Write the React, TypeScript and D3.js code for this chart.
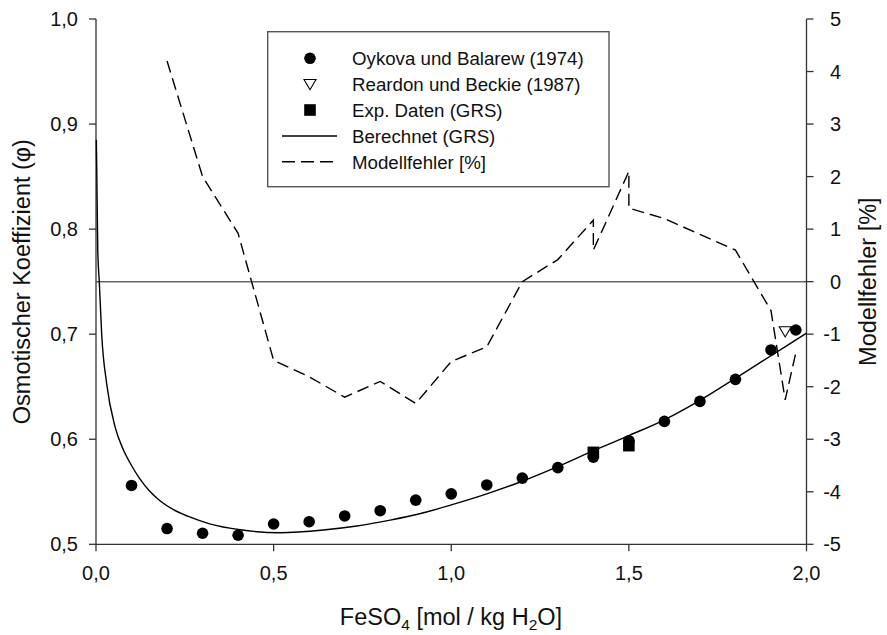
import React from "react";
import * as d3 from "d3";

const oykovaX = [0.1, 0.2, 0.3, 0.4, 0.5, 0.6, 0.7, 0.8, 0.9, 1.0, 1.1, 1.2, 1.3, 1.4, 1.5, 1.6, 1.7, 1.8, 1.9, 1.97];
const oykovaY = [0.556, 0.515, 0.5105, 0.5086, 0.5193, 0.5215, 0.527, 0.532, 0.542, 0.548, 0.5565, 0.563, 0.573, 0.583, 0.5986, 0.617, 0.636, 0.657, 0.685, 0.704];

const reardonX = [1.94];
const reardonY = [0.7025];

const grsX = [1.4, 1.5];
const grsY = [0.5875, 0.5939];

const calcX = [0.001, 0.002, 0.005, 0.0094, 0.016, 0.03, 0.0535, 0.077, 0.1, 0.124, 0.15, 0.18, 0.218, 0.26, 0.32, 0.406, 0.518, 0.64, 0.734, 0.828, 0.922, 1.0, 1.1, 1.2, 1.28, 1.41, 1.5, 1.6, 1.7, 1.8, 1.9, 2.0];
const calcY = [0.885, 0.86, 0.78, 0.749, 0.7, 0.653, 0.612, 0.59, 0.575, 0.562, 0.551, 0.5415, 0.533, 0.5265, 0.5195, 0.5138, 0.511, 0.5136, 0.5174, 0.523, 0.53, 0.5375, 0.548, 0.56, 0.571, 0.5905, 0.6035, 0.6185, 0.637, 0.658, 0.6795, 0.701];

const errX = [0.2, 0.3, 0.4, 0.5, 0.6, 0.7, 0.8, 0.9, 1.0, 1.1, 1.2, 1.3, 1.4, 1.4, 1.5, 1.5, 1.6, 1.7, 1.8, 1.9, 1.94, 1.97];
const errY = [4.2, 2.0, 0.92, -1.5, -1.81, -2.2, -1.9, -2.32, -1.52, -1.24, 0.0, 0.42, 1.17, 0.6, 2.1, 1.4, 1.2, 0.9, 0.6, -0.55, -2.25, -1.35];

const xTicks = [0, 0.5, 1.0, 1.5, 2.0];
const yTicks = [0.5, 0.6, 0.7, 0.8, 0.9, 1.0];
const y2Ticks = [-5, -4, -3, -2, -1, 0, 1, 2, 3, 4, 5];

const legendLabels = [
  "Oykova und Balarew (1974)",
  "Reardon und Beckie (1987)",
  "Exp. Daten (GRS)",
  "Berechnet (GRS)",
  "Modellfehler [%]",
];

const FONT = "'Liberation Sans', Arial, Helvetica, sans-serif";

export default function App() {
  const W = 887, H = 635;
  const x = d3.scaleLinear().domain([0, 2]).range([96, 806.5]);
  const y = d3.scaleLinear().domain([0.5, 1.0]).range([544.3, 19]);
  const y2 = d3.scaleLinear().domain([-5, 5]).range([544.3, 19]);
  const fmt = (v: number) => d3.format(".1f")(v).replace(".", ",");

  const calcLine = d3
    .line<number>()
    .x((_, i) => x(calcX[i]))
    .y((d) => y(d))
    .curve(d3.curveMonotoneX)(calcY) as string;

  const errLine = d3
    .line<number>()
    .x((_, i) => x(errX[i]))
    .y((d) => y2(d))(errY) as string;

  const axisColor = "#333";
  const tri = (cx: number, cy: number, s: number) =>
    `M${cx - s},${cy - s * 0.8}L${cx + s},${cy - s * 0.8}L${cx},${cy + s * 0.9}Z`;

  const legX = 267.7, legY = 31.7, legW = 341.3, legH = 155;
  const rowY = [58.3, 84.3, 110, 136, 161.7];
  const symX = 310;
  const midY = (y(1) + y(0.5)) / 2;

  return (
    <svg
      width={W}
      height={H}
      style={{ position: "absolute", left: 0, top: 0, background: "#fff" }}
      fontFamily={FONT}
    >
      <rect x={0} y={0} width={W} height={H} fill="#fff" />
      {/* zero line of right axis */}
      <line x1={x(0)} x2={x(2)} y1={y2(0)} y2={y2(0)} stroke="#666" strokeWidth={1.5} />

      {/* axes */}
      <line x1={x(0)} x2={x(0)} y1={y(1.0)} y2={y(0.5)} stroke={axisColor} strokeWidth={1.3} />
      <line x1={x(2)} x2={x(2)} y1={y(1.0)} y2={y(0.5)} stroke={axisColor} strokeWidth={1.3} />
      <line x1={x(0)} x2={x(2)} y1={y(0.5)} y2={y(0.5)} stroke={axisColor} strokeWidth={1.3} />

      {xTicks.map((t) => (
        <g key={"xt" + t}>
          <line x1={x(t)} x2={x(t)} y1={y(0.5)} y2={y(0.5) + 7} stroke={axisColor} strokeWidth={1.3} />
          <text x={x(t)} y={580} textAnchor="middle" fontSize={20} fill="#111">
            {fmt(t)}
          </text>
        </g>
      ))}
      {yTicks.map((t) => (
        <g key={"yt" + t}>
          <line x1={x(0) - 7} x2={x(0)} y1={y(t)} y2={y(t)} stroke={axisColor} strokeWidth={1.3} />
          <text x={78} y={y(t) + 7} textAnchor="end" fontSize={20} fill="#111">
            {fmt(t)}
          </text>
        </g>
      ))}
      {y2Ticks.map((t) => (
        <g key={"y2t" + t}>
          <line x1={x(2)} x2={x(2) + 7} y1={y2(t)} y2={y2(t)} stroke={axisColor} strokeWidth={1.3} />
          <text x={841} y={y2(t) + 7} textAnchor="end" fontSize={20} fill="#111">
            {String(t)}
          </text>
        </g>
      ))}

      {/* axis titles */}
      <text x={451} y={625} textAnchor="middle" fontSize={23.5} fill="#111">
        FeSO<tspan fontSize={15.5} dy={5}>4</tspan>
        <tspan dy={-5}> [mol / kg H</tspan>
        <tspan fontSize={15.5} dy={5}>2</tspan>
        <tspan dy={-5}>O]</tspan>
      </text>
      <text
        transform={`translate(30,${midY}) rotate(-90)`}
        textAnchor="middle"
        fontSize={23.5}
        fill="#111"
      >
        Osmotischer Koeffizient (φ)
      </text>
      <text
        transform={`translate(876,${midY}) rotate(-90)`}
        textAnchor="middle"
        fontSize={23.5}
        fill="#111"
      >
        Modellfehler [%]
      </text>

      {/* calculated line */}
      <path d={calcLine} fill="none" stroke="#000" strokeWidth={1.4} />
      {/* model error */}
      <path d={errLine} fill="none" stroke="#000" strokeWidth={1.4} strokeDasharray="12,6" />

      {/* markers */}
      {oykovaX.map((v, i) => (
        <circle key={"o" + i} cx={x(v)} cy={y(oykovaY[i])} r={5.8} fill="#000" />
      ))}
      {reardonX.map((v, i) => (
        <path key={"r" + i} d={tri(x(v), y(reardonY[i]), 6)} fill="#fff" stroke="#000" strokeWidth={1.1} />
      ))}
      {grsX.map((v, i) => (
        <rect key={"g" + i} x={x(v) - 5.8} y={y(grsY[i]) - 5.8} width={11.6} height={11.6} fill="#000" />
      ))}

      {/* legend */}
      <rect x={legX} y={legY} width={legW} height={legH} fill="#fff" stroke="#555" strokeWidth={1.4} />
      <circle cx={symX} cy={rowY[0]} r={5.8} fill="#000" />
      <path d={tri(symX, rowY[1], 6)} fill="#fff" stroke="#000" strokeWidth={1.1} />
      <rect x={symX - 5.8} y={rowY[2] - 5.8} width={11.6} height={11.6} fill="#000" />
      <line x1={282} x2={337} y1={rowY[3]} y2={rowY[3]} stroke="#000" strokeWidth={1.4} />
      <line x1={282} x2={337} y1={rowY[4]} y2={rowY[4]} stroke="#000" strokeWidth={1.4} strokeDasharray="13,6" />
      {legendLabels.map((l, i) => (
        <text key={l} x={352} y={rowY[i] + 7} fontSize={18.7} fill="#111">
          {l}
        </text>
      ))}
    </svg>
  );
}
